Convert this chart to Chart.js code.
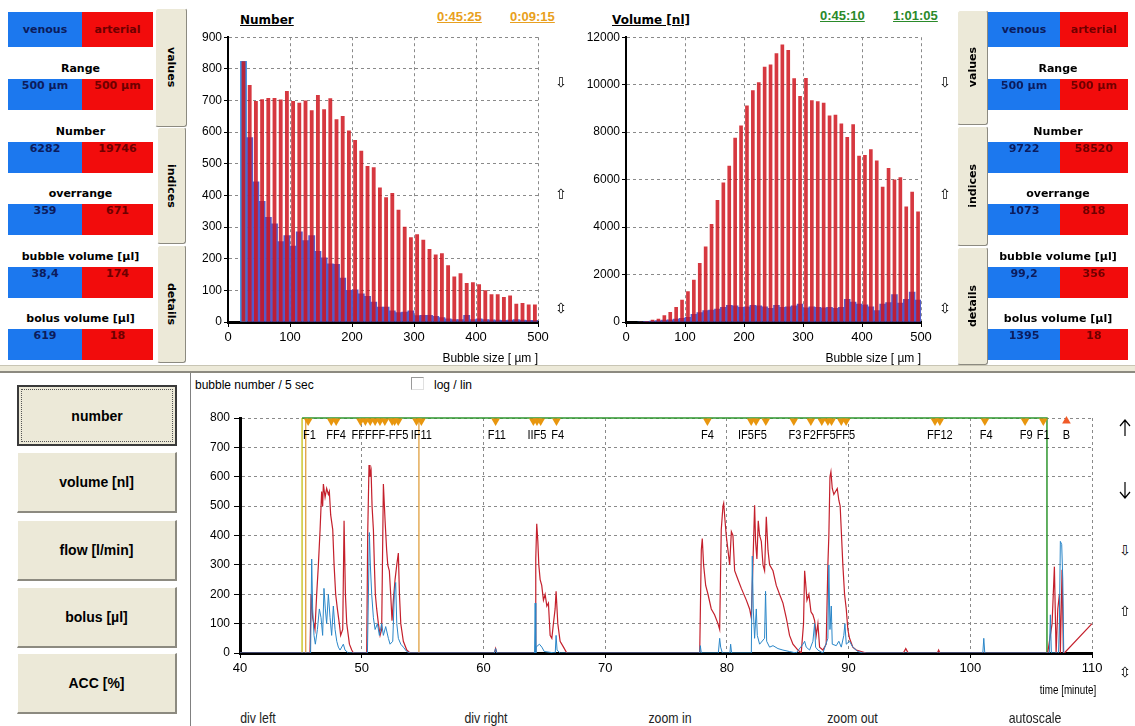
<!DOCTYPE html>
<html>
<head>
<meta charset="utf-8">
<script src="https://cdn.jsdelivr.net/npm/chart.js@4.4.1/dist/chart.umd.min.js"></script>
<style>
  body { margin: 0; width: 1135px; height: 726px; position: relative; overflow: hidden; background: #fff; font-family: "Liberation Sans", Arial, sans-serif; }
  .abs { position: absolute; }
  .cell { position: absolute; height: 31px; line-height: 31px; text-align: center; font: bold 11px "DejaVu Sans", sans-serif; }
  .blue { background: #1c78ee; color: #0c1c5c; }
  .red { background: #f20c0c; color: #6e0000; }
  .plabel { position: absolute; text-align: center; font: bold 11px "DejaVu Sans", sans-serif; color: #000; }
  .tab { position: absolute; background: #ece9d8; border: 1px solid #fff; border-right: 1px solid #8c8a80; border-bottom: 1px solid #8c8a80; border-radius: 3px; display: flex; align-items: center; justify-content: center; font: bold 11px "DejaVu Sans", sans-serif; color: #000; writing-mode: vertical-rl; box-sizing: border-box; }
  .tab.up span { transform: rotate(180deg); }
  .btn { position: absolute; left: 17px; width: 160px; height: 61px; background: #ece9d8; border-top: 1px solid #fff; border-left: 1px solid #fff; border-right: 2px solid #8c8a80; border-bottom: 2px solid #8c8a80; box-sizing: border-box; display: flex; align-items: center; justify-content: center; font: bold 14px "Liberation Sans", Arial, sans-serif; }
  .btn.focus { border: 2px solid #3a3a3a; outline: 1px dotted #555; outline-offset: -5px; }
  .arrow { position: absolute; font: 14px "DejaVu Sans", sans-serif; color: #000; }
  .narrow { transform: scaleX(0.82); transform-origin: center; }
  canvas { position: absolute; }
</style>
</head>
<body>

<canvas id="cNumber" width="370" height="345" style="left:190px;top:28px"></canvas>
<canvas id="cVolume" width="360" height="345" style="left:580px;top:28px"></canvas>
<canvas id="cTime" width="915" height="305" style="left:195px;top:400px"></canvas>

<!-- top chart headers -->
<div class="abs" style="left:240px;top:13px;font:bold 12px 'DejaVu Sans',sans-serif;text-decoration:underline">Number</div>
<div class="abs" style="left:437px;top:9px;font:bold 13px 'Liberation Sans',sans-serif;color:#e8a020;text-decoration:underline">0:45:25</div>
<div class="abs" style="left:510px;top:9px;font:bold 13px 'Liberation Sans',sans-serif;color:#e8a020;text-decoration:underline">0:09:15</div>
<div class="abs" style="left:612px;top:13px;font:bold 12px 'DejaVu Sans',sans-serif;text-decoration:underline">Volume [nl]</div>
<div class="abs" style="left:820px;top:8px;font:bold 13px 'Liberation Sans',sans-serif;color:#2a8a2a;text-decoration:underline">0:45:10</div>
<div class="abs" style="left:893px;top:8px;font:bold 13px 'Liberation Sans',sans-serif;color:#2a8a2a;text-decoration:underline">1:01:05</div>
<div class="abs" style="left:430px;top:351px;width:108px;text-align:right;font-size:12px">Bubble size [ µm ]</div>
<div class="abs" style="left:813px;top:351px;width:108px;text-align:right;font-size:12px">Bubble size [ µm ]</div>

<div class="arrow" style="left:555px;top:74px">⇩</div>
<div class="arrow" style="left:555px;top:186px">⇧</div>
<div class="arrow" style="left:555px;top:300px">⇳</div>
<div class="arrow" style="left:939px;top:74px">⇩</div>
<div class="arrow" style="left:939px;top:186px">⇧</div>
<div class="arrow" style="left:939px;top:300px">⇳</div>

<!-- side tabs -->
<div class="tab" style="left:155px;top:8px;width:32px;height:119px">values</div>
<div class="tab" style="left:157px;top:127px;width:29px;height:117px">indices</div>
<div class="tab" style="left:157px;top:245px;width:29px;height:118px">details</div>
<div class="tab up" style="left:957px;top:10px;width:31px;height:115px"><span>values</span></div>
<div class="tab up" style="left:957px;top:126px;width:31px;height:120px"><span>indices</span></div>
<div class="tab up" style="left:957px;top:247px;width:31px;height:118px"><span>details</span></div>

<div id="panels"></div>

<!-- separator -->
<div class="abs" style="left:0;top:365px;width:1135px;height:5px;background:#ece9d8;border-top:1px solid #c8c5b4;border-bottom:2px solid #8c8a80"></div>
<div class="abs" style="left:190px;top:373px;width:1px;height:353px;background:#808080"></div>

<!-- bottom buttons -->
<div class="btn focus" style="top:385px">number</div>
<div class="btn" style="top:452px">volume [nl]</div>
<div class="btn" style="top:520px">flow [l/min]</div>
<div class="btn" style="top:587px">bolus [µl]</div>
<div class="btn" style="top:653px">ACC [%]</div>

<div class="abs" style="left:195px;top:378px;font-size:12px">bubble number / 5 sec</div>
<div class="abs" style="left:411px;top:377px;width:11px;height:11px;border:1px solid #9a9a9a;border-right-color:#e0e0e0;border-bottom-color:#e0e0e0;background:#fff"></div>
<div class="abs" style="left:434px;top:378px;font-size:12px">log / lin</div>

<div class="abs narrow" style="left:1030px;top:683px;width:76px;text-align:center;font-size:12px">time [minute]</div>

<svg class="abs" style="left:1119px;top:419px" width="12" height="18"><path d="M6 1 V17 M1 7 L6 1 L11 7" stroke="#000" stroke-width="1.2" fill="none"/></svg>
<svg class="abs" style="left:1119px;top:481px" width="12" height="18"><path d="M6 1 V17 M1 11 L6 17 L11 11" stroke="#000" stroke-width="1.2" fill="none"/></svg>
<div class="arrow" style="left:1119px;top:542px">⇩</div>
<div class="arrow" style="left:1119px;top:603px">⇧</div>
<div class="arrow" style="left:1119px;top:664px">⇳</div>

<div class="abs narrow" style="left:223px;top:709px;width:70px;text-align:center;font-size:15px;color:#222">div left</div>
<div class="abs narrow" style="left:451px;top:709px;width:70px;text-align:center;font-size:15px;color:#222">div right</div>
<div class="abs narrow" style="left:635px;top:709px;width:70px;text-align:center;font-size:15px;color:#222">zoom in</div>
<div class="abs narrow" style="left:815px;top:709px;width:75px;text-align:center;font-size:15px;color:#222">zoom out</div>
<div class="abs narrow" style="left:995px;top:709px;width:80px;text-align:center;font-size:15px;color:#222">autoscale</div>

<script>
// ── data: side panels ──
const panelLabels = ['Range', 'Number', 'overrange', 'bubble volume [µl]', 'bolus volume [µl]'];
const leftVenous = ['500 µm', '6282', '359', '38,4', '619'];
const leftArterial = ['500 µm', '19746', '671', '174', '18'];
const rightVenous = ['500 µm', '9722', '1073', '99,2', '1395'];
const rightArterial = ['500 µm', '58520', '818', '356', '18'];

// ── data: size histograms (bin centres in µm) ──
const binCenters = [25, 35, 45, 55, 65, 75, 85, 95, 105, 115, 125, 135, 145, 155, 165, 175, 185, 195,
  205, 215, 225, 235, 245, 255, 265, 275, 285, 295, 305, 315, 325, 335, 345, 355, 365, 375, 385, 395,
  405, 415, 425, 435, 445, 455, 465, 475, 485, 495];
const numberArterial = [824, 749, 698, 704, 708, 708, 703, 730, 698, 693, 700, 669, 717, 672, 707, 641, 651, 605,
  575, 541, 493, 489, 425, 394, 408, 355, 301, 268, 277, 260, 231, 213, 217, 179, 144, 154, 123, 126,
  119, 100, 88, 88, 79, 84, 58, 60, 55, 55];
const numberVenous = [824, 583, 443, 381, 331, 310, 254, 273, 240, 285, 257, 273, 223, 203, 184, 182, 139, 100,
  102, 89, 81, 63, 47, 47, 35, 30, 31, 35, 20, 21, 21, 18, 14, 10, 8, 8, 21, 8,
  10, 8, 7, 6, 5, 6, 8, 6, 5, 5];
const volumeArterial = [10, 40, 100, 140, 280, 420, 630, 940, 1300, 1780, 2490, 3180, 4130, 5140, 5880, 6580, 7760, 8280,
  9120, 9760, 10100, 10760, 10850, 11320, 11690, 11460, 10270, 9520, 10280, 9340, 9300, 9240, 8700, 8730, 8360, 7800, 8330, 7000,
  7040, 7280, 6810, 5700, 6490, 6000, 6100, 4870, 5490, 4660];
const volumeVenous = [0, 30, 40, 60, 80, 90, 120, 150, 200, 320, 400, 480, 500, 540, 620, 700, 680, 620,
  640, 700, 680, 640, 580, 700, 620, 640, 680, 760, 600, 640, 620, 600, 620, 580, 620, 950, 840, 760,
  720, 640, 480, 760, 820, 1160, 800, 960, 1260, 920];
const numberTicks = { min: 0, max: 900, step: 100 };
const volumeTicks = { min: 0, max: 12000, step: 2000 };

// ── data: bubble number / 5 sec over time (minutes) ──
const arterialTime = [40, 45.75, 45.84, 45.97, 46.16, 46.30, 46.44, 46.58, 46.71, 46.79, 46.85, 46.99, 47.12, 47.26, 47.34,
  47.45, 47.62, 47.73, 47.86, 48.00, 48.16, 48.27, 48.44, 48.55, 48.66, 48.77, 48.99, 49.18, 49.32,
  50.41, 50.49, 50.60, 50.68, 50.77, 50.85, 50.96, 51.04, 51.12, 51.23, 51.37, 51.51, 51.64, 51.78, 51.92,
  52.05, 52.14, 52.27, 52.38, 52.49, 52.60, 52.74, 52.88, 53.01, 53.10, 53.21, 53.42, 53.70, 53.97,
  60.9, 61.0, 61.1,
  64.25, 64.30, 64.38, 64.47, 64.55, 64.66, 64.79, 64.93, 65.07, 65.21, 65.34, 65.48, 65.62, 65.75, 65.89,
  65.97, 66.11, 66.30, 66.58, 66.85,
  77.77, 77.90, 77.98, 78.09, 78.26, 78.45, 78.72, 78.99, 79.27, 79.41, 79.54, 79.68, 79.74, 79.85, 79.95,
  80.09, 80.23, 80.37, 80.50, 80.64, 80.91, 81.19, 81.60, 81.87, 82.01, 82.14, 82.28, 82.36, 82.47, 82.58,
  82.69, 82.83, 82.97, 83.10, 83.24, 83.38, 83.51, 83.79, 84.06, 84.33, 84.61, 84.88, 85.15, 85.43, 85.84,
  86.11, 86.30, 86.39, 86.47, 86.58, 86.74, 86.91, 87.07, 87.21, 87.34, 87.48, 87.62, 87.89, 88.16, 88.30,
  88.38, 88.47, 88.55, 88.66, 88.79, 88.93, 89.07, 89.20, 89.31, 89.42, 89.53, 89.67, 89.81, 89.94, 90.08,
  90.35, 90.63, 91.04, 91.45,
  94.5, 94.7, 94.9, 97.3, 97.4, 97.5,
  106.36, 106.72, 106.91, 107.05, 107.19, 107.32, 107.40, 107.54, 107.65, 107.73, 110];
const arterialCount = [0, 0, 200, 120, 80, 200, 300, 420, 550, 500, 575, 530, 560, 540, 550,
  470, 420, 300, 200, 150, 100, 60, 80, 450, 200, 100, 30, 10, 0,
  0, 400, 640, 600, 620, 500, 420, 300, 200, 150, 100, 60, 80, 575, 450,
  350, 300, 280, 200, 110, 180, 250, 300, 340, 200, 100, 40, 10, 0,
  0, 15, 0,
  0, 320, 440, 380, 300, 250, 230, 180, 200, 160, 170, 60, 50, 100, 150,
  210, 100, 40, 20, 0,
  0, 350, 390, 300, 230, 200, 150, 130, 100, 80, 420, 500, 510, 450, 400,
  350, 300, 413, 400, 280, 250, 220, 180, 150, 120, 300, 503, 380, 320, 450,
  400, 380, 300, 280, 464, 350, 300, 280, 230, 200, 170, 120, 60, 30, 10,
  0, 100, 280, 240, 180, 200, 140, 130, 110, 60, 100, 20, 10, 30, 300,
  400, 600, 617, 560, 540, 550, 560, 520, 500, 400, 300, 200, 150, 80, 50,
  20, 10, 5, 0,
  0, 15, 0, 0, 10, 0,
  0, 100, 294, 0, 150, 200, 0, 283, 0, 0, 100];

const venousTime = [40, 45.80, 45.89, 45.97, 46.08, 46.19, 46.36, 46.52, 46.66, 46.79, 46.90, 47.01, 47.12, 47.26,
  47.40, 47.53, 47.67, 47.81, 47.95, 48.08, 48.22, 48.49, 48.63, 48.90,
  50.47, 50.55, 50.63, 50.71, 50.82, 50.96, 51.10, 51.29, 51.45, 51.64, 51.78, 51.97, 52.19, 52.33, 52.55,
  52.68, 52.79, 52.88, 53.01, 53.21, 53.42, 53.70, 53.97,
  60.9, 61.0, 61.1,
  64.20, 64.25, 64.30, 64.33, 64.60, 64.80, 65.00, 65.90, 65.97, 66.05, 66.30,
  77.77, 77.82, 77.90, 79.30, 79.41, 79.49, 79.63, 80.25, 80.31, 80.39,
  82.01, 82.09, 82.17, 82.28, 82.42, 82.50, 82.69, 83.10, 83.18, 83.27, 83.51, 83.79, 84.20, 84.61, 85.15,
  85.70, 86.25, 86.39, 86.52, 86.80, 87.07, 87.21, 87.29, 87.48, 87.89, 88.30, 88.38, 88.47, 88.58, 88.66,
  88.99, 89.20, 89.40, 89.61, 89.70, 89.81, 90.08, 90.35, 90.76, 91.18,
  101.03, 101.11, 101.19,
  106.50, 106.58, 106.66, 107.25, 107.32, 107.40, 107.51, 107.60, 107.68];
const venousCount = [0, 0, 320, 150, 60, 30, 80, 150, 120, 60, 220, 150, 100, 200,
  120, 60, 160, 80, 40, 20, 10, 30, 10, 0,
  0, 200, 410, 300, 200, 120, 80, 100, 60, 100, 60, 90, 50, 30, 40,
  200, 240, 100, 50, 30, 20, 5, 0,
  0, 15, 0,
  0, 170, 0, 20, 30, 20, 5, 0, 60, 10, 0,
  0, 25, 0, 0, 50, 20, 0, 0, 30, 0,
  0, 330, 150, 50, 150, 60, 30, 50, 210, 40, 20, 25, 15, 10, 5,
  0, 30, 40, 20, 10, 40, 100, 20, 10, 0, 50, 300, 80, 160, 30,
  25, 40, 20, 60, 100, 30, 40, 20, 5, 0,
  0, 50, 0,
  0, 130, 0, 0, 100, 380, 370, 250, 0];

// event markers (F = filter / flush events, B = bolus)
const eventTimes = [45.6, 47.5, 47.9, 49.9, 50.3, 50.7, 51.1, 51.5, 51.9, 52.5, 52.7, 53.0, 54.5, 54.9, 61.0,
  64.1, 64.4, 64.7, 66.0, 78.4, 82.0, 82.4, 83.2, 85.5, 86.9, 87.8, 88.3, 88.6, 89.4, 89.8, 97.1, 97.5,
  101.2, 104.5, 106.0];
const eventLevel = 790;
const bolusTimes = [107.9];
const eventLabels = ['F1', 'FF4', 'FFFFF-FF5', 'IF11', 'F11', 'IIF5', 'F4', 'F4', 'IF5F5', 'F3', 'F2FF5FF5',
  'FF12', 'F4', 'F9', 'F1', 'B'];
const eventLabelTimes = [45.7, 47.9, 51.5, 54.9, 61.1, 64.4, 66.1, 78.4, 82.1, 85.6, 88.4, 97.5, 101.3, 104.6, 106.0, 107.9];
const eventLabelLevel = 742;

// cursors and analysis window
const cursorYellow = 45.1, cursorOrangeA = 45.4, cursorOrangeB = 54.7;
const windowStart = 45.1, windowEnd = 106.3, windowTop = 800;
const timeTicks = { min: 40, max: 110, step: 10 };
const countTicks = { min: 0, max: 800, step: 100 };

// ── side panels ──
function buildPanel(x0, xm, x1, venous, arterial) {
  const host = document.getElementById('panels');
  const rowTops = [79, 142, 204, 267, 329];
  let html = `<div class="cell blue" style="left:${x0}px;top:12px;width:${xm - x0}px;height:35px;line-height:35px">venous</div>`
    + `<div class="cell red" style="left:${xm}px;top:12px;width:${x1 - xm}px;height:35px;line-height:35px">arterial</div>`;
  panelLabels.forEach((lab, i) => {
    const t = rowTops[i];
    html += `<div class="plabel" style="left:${x0}px;top:${t - 17}px;width:${x1 - x0}px">${lab}</div>`;
    html += `<div class="cell blue" style="left:${x0}px;top:${t}px;width:${xm - x0}px">${venous[i]}</div>`;
    html += `<div class="cell red" style="left:${xm}px;top:${t}px;width:${x1 - xm}px">${arterial[i]}</div>`;
  });
  host.insertAdjacentHTML('beforeend', html);
}
buildPanel(8, 82, 153, leftVenous, leftArterial);
buildPanel(988, 1060, 1128, rightVenous, rightArterial);

// ── charts ──
Chart.defaults.animation = false;
Chart.defaults.font.family = "'Liberation Sans', Arial, sans-serif";
Chart.defaults.color = '#000';

const toXY = (xs, ys) => xs.map((x, i) => ({ x, y: ys[i] }));
const dashGrid = { color: '#8a8a8a', tickColor: '#000', tickLength: 5, tickBorderDash: [] };
const plain = { useGrouping: false };

function histOptions(ticks, yWidth, rightPad) {
  return {
    responsive: false, devicePixelRatio: 1,
    layout: { padding: { top: 8, right: rightPad, left: 0, bottom: 0 } },
    plugins: { legend: { display: false }, tooltip: { enabled: false } },
    scales: {
      x: { type: 'linear', min: 0, max: 500, offset: false,
        ticks: { stepSize: 100, padding: 3, font: { size: 13 }, format: plain },
        grid: { ...dashGrid, offset: false },
        border: { display: true, color: '#000', width: 3, dash: [3, 3] },
        afterFit: s => { s.height = 51; } },
      y: { min: ticks.min, max: ticks.max,
        ticks: { stepSize: ticks.step, padding: 2, font: { size: 12 }, format: plain },
        grid: { ...dashGrid, tickLength: 4 },
        border: { display: true, color: '#000', width: 2, dash: [3, 3] },
        afterFit: s => { s.width = yWidth; } }
    }
  };
}

function histChart(id, venous, arterial, ticks, yWidth, rightPad) {
  const venousColors = venous.map((v, i) => i === 0 ? '#3a8ee6' : 'rgba(78,86,200,0.95)');
  return new Chart(document.getElementById(id), {
    type: 'bar',
    data: { datasets: [
      { label: 'arterial', data: toXY(binCenters, arterial), backgroundColor: 'rgba(206,18,28,0.84)',
        grouped: false, barPercentage: 0.62, categoryPercentage: 1, order: 0 },
      { label: 'venous', data: toXY(binCenters, venous), backgroundColor: venousColors,
        grouped: false, barPercentage: 1, categoryPercentage: 1, order: 1 },
    ]},
    options: histOptions(ticks, yWidth, rightPad)
  });
}

histChart('cNumber', numberVenous, numberArterial, numberTicks, 38, 22);
histChart('cVolume', volumeVenous, volumeArterial, volumeTicks, 46, 19);

// event label text drawn through the chart's own scales
const eventLabelPlugin = {
  id: 'eventLabels',
  afterDatasetsDraw(chart) {
    const { ctx, scales: { x, y } } = chart;
    ctx.save();
    ctx.font = "13px 'Liberation Sans', sans-serif";
    ctx.fillStyle = '#000';
    ctx.textAlign = 'center';
    ctx.textBaseline = 'middle';
    eventLabels.forEach((t, i) => {
      const px = x.getPixelForValue(eventLabelTimes[i]), py = y.getPixelForValue(eventLabelLevel);
      ctx.save();
      ctx.translate(px, py);
      ctx.scale(0.85, 1);
      ctx.fillText(t, 0, 0);
      ctx.restore();
    });
    ctx.restore();
  }
};

const lineDs = (label, pts, color, width, extra) => ({ label, data: pts, borderColor: color, borderWidth: width,
  pointRadius: 0, showLine: true, tension: 0, fill: false, ...extra });

new Chart(document.getElementById('cTime'), {
  type: 'scatter',
  data: { datasets: [
    { label: 'events', data: eventTimes.map(t => ({ x: t, y: eventLevel })), pointStyle: 'triangle', rotation: 180,
      pointRadius: 5, backgroundColor: '#e8960e', borderColor: '#e8960e', borderWidth: 0, clip: 8 },
    { label: 'bolus', data: bolusTimes.map(t => ({ x: t, y: eventLevel })), pointStyle: 'triangle', rotation: 0,
      pointRadius: 5, backgroundColor: '#f05a28', borderColor: '#f05a28', borderWidth: 0, clip: 8 },
    lineDs('venous', toXY(venousTime, venousCount), '#2a86c8', 1),
    lineDs('arterial', toXY(arterialTime, arterialCount), '#c4202c', 1.2),
    lineDs('window', [{ x: windowStart, y: windowTop }, { x: windowEnd, y: windowTop }, { x: windowEnd, y: 0 }], '#2e962e', 1.5, { clip: 3 }),
    lineDs('cursor1', [{ x: cursorYellow, y: 0 }, { x: cursorYellow, y: windowTop }], '#c4be10', 1.3),
    lineDs('cursor2', [{ x: cursorOrangeA, y: 0 }, { x: cursorOrangeA, y: windowTop }], '#e0a040', 1.3),
    lineDs('cursor3', [{ x: cursorOrangeB, y: 0 }, { x: cursorOrangeB, y: windowTop }], '#e0a040', 1.3),
  ]},
  options: {
    responsive: false, devicePixelRatio: 1,
    layout: { padding: { top: 18, right: 18, left: 0, bottom: 0 } },
    plugins: { legend: { display: false }, tooltip: { enabled: false } },
    scales: {
      x: { type: 'linear', min: timeTicks.min, max: timeTicks.max,
        ticks: { stepSize: timeTicks.step, padding: 3, font: { size: 13 }, format: plain },
        grid: { ...dashGrid },
        border: { display: true, color: '#000', width: 3, dash: [3, 3] },
        afterFit: s => { s.height = 52; } },
      y: { min: countTicks.min, max: countTicks.max,
        ticks: { stepSize: countTicks.step, padding: 4, font: { size: 12 }, format: plain },
        grid: { ...dashGrid, tickLength: 6 },
        border: { display: true, color: '#000', width: 3, dash: [3, 3] },
        afterFit: s => { s.width = 45; } }
    }
  },
  plugins: [eventLabelPlugin]
});
</script>
</body>
</html>
